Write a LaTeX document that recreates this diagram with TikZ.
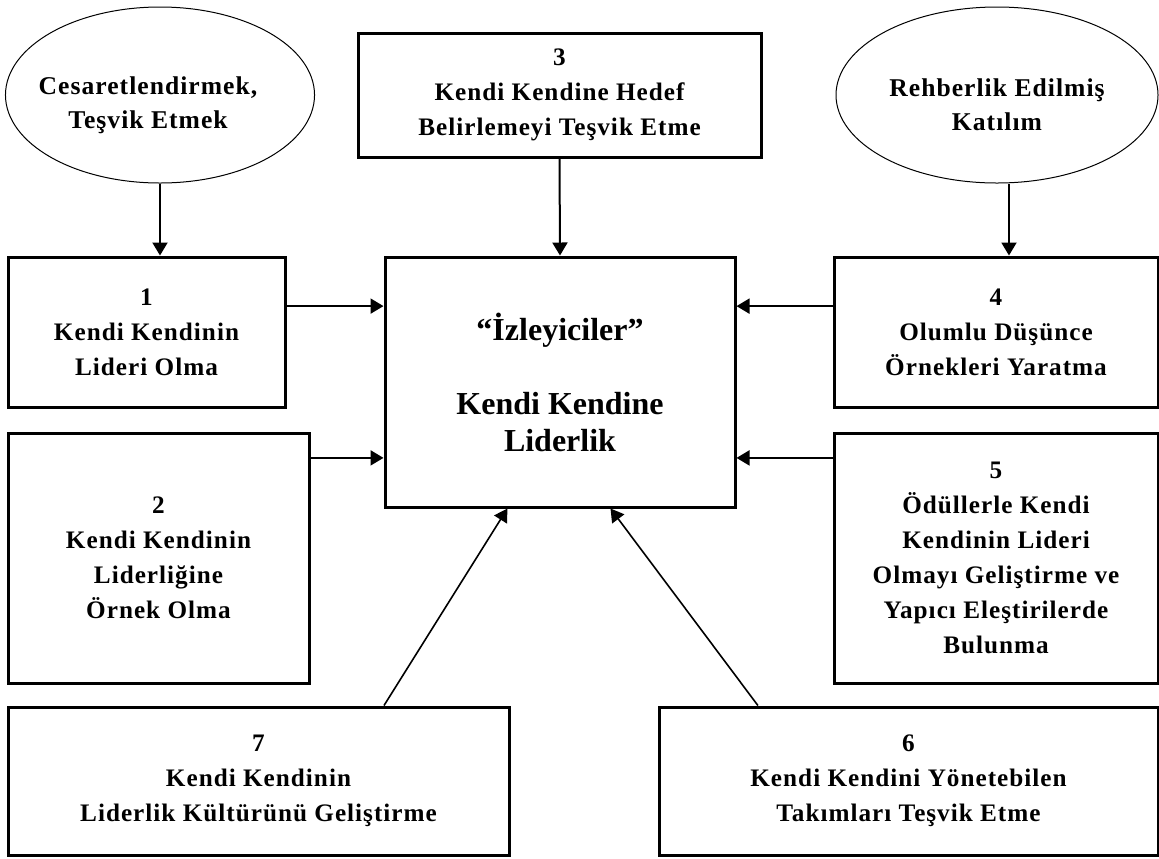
\documentclass[tikz,border=0pt]{standalone}
\usepackage{fontspec}
\setmainfont{Liberation Serif}
\newfontfamily\boxfont{Liberation Serif}[LetterSpace=4]
\usepackage{tikz}
\usetikzlibrary{shapes, arrows.meta, positioning, calc}

\tikzset{
  factorbox/.style={draw, line width=1.5pt, align=center, inner sep=0pt,
    font=\boxfont\fontsize{12.6pt}{17.5pt}\selectfont\bfseries},
  sourceoval/.style={draw, ellipse, line width=0.5pt, align=center, inner sep=0pt,
    minimum width=151pt, minimum height=88pt,
    font=\boxfont\fontsize{12.8pt}{17pt}\selectfont\bfseries},
  flowarrow/.style={-{Triangle[length=6.5pt, width=7.5pt]}, line width=1pt},
}

\begin{document}
\begin{tikzpicture}[x=0.5pt, y=-0.5pt]
  \useasboundingbox (0,0) rectangle (1159,858);

  % sources on top
  \node[sourceoval, inner xsep=-6pt] (encourage) at (160,95)
    {\rule{0pt}{19pt}Cesaretlendirmek,\hspace*{12pt}\\Teşvik Etmek\hspace*{12pt}};
  \node[sourceoval, minimum width=161pt] (guided) at (997,95)
    {\rule{0pt}{19pt}Rehberlik Edilmiş\\Katılım};
  \node[factorbox, minimum width=201.5pt, minimum height=62pt] (goal) at (559.5,95)
    {3\\Kendi Kendine Hedef\\Belirlemeyi Teşvik Etme};

  % centre
  \node[factorbox, minimum width=175pt, minimum height=125pt,
    font=\fontsize{16pt}{18.5pt}\selectfont\bfseries] (self) at (560,382)
    {“İzleyiciler”\\[18.5pt]Kendi Kendine\\Liderlik};

  % left column
  \node[factorbox, minimum width=138.5pt, minimum height=75pt] (lead) at (146.5,332)
    {1\\Kendi Kendinin\\Lideri Olma};
  \node[factorbox, minimum width=150.5pt, minimum height=125pt] (model) at (158.5,558)
    {2\\Kendi Kendinin\\Liderliğine\\Örnek Olma};

  % right column
  \node[factorbox, minimum width=162pt, minimum height=75pt] (thought) at (996,332)
    {4\\Olumlu Düşünce\\Örnekleri Yaratma};
  \node[factorbox, minimum width=162pt, minimum height=125pt] (reward) at (996,558)
    {5\\Ödüllerle Kendi\\Kendinin Lideri\\Olmayı Geliştirme ve\\Yapıcı Eleştirilerde\\Bulunma};

  % bottom row
  \node[factorbox, minimum width=250.5pt, minimum height=74pt] (culture) at (258.5,781)
    {7\\Kendi Kendinin\\Liderlik Kültürünü Geliştirme};
  \node[factorbox, minimum width=249.5pt, minimum height=74pt] (teams) at (908.5,781)
    {6\\Kendi Kendini Yönetebilen\\Takımları Teşvik Etme};

  % connectors
  \coordinate (guidedout) at ([xshift=6pt]guided.south);
  \coordinate (inL1) at ($(self.north west)!.2!(self.south west)$);
  \coordinate (inL2) at ($(self.north west)!.8!(self.south west)$);
  \coordinate (inR1) at ($(self.north east)!.2!(self.south east)$);
  \coordinate (inR2) at ($(self.north east)!.8!(self.south east)$);

  \draw[flowarrow] (encourage.south) -- (encourage.south |- lead.north);
  \draw[flowarrow] (guidedout) -- (guidedout |- thought.north);
  \draw[flowarrow] (goal.south) -- (self.north);
  \draw[flowarrow] (lead.east |- inL1) -- (inL1);
  \draw[flowarrow] (model.east |- inL2) -- (inL2);
  \draw[flowarrow] (thought.west |- inR1) -- (inR1);
  \draw[flowarrow] (reward.west |- inR2) -- (inR2);
  \draw[flowarrow, line width=0.8pt] ($(culture.north west)!.749!(culture.north east)$)
    -- ($(self.south west)!.351!(self.south east)$);
  \draw[flowarrow, line width=0.8pt] ($(teams.north west)!.2!(teams.north east)$)
    -- ($(self.south west)!.643!(self.south east)$);
\end{tikzpicture}
\end{document}
